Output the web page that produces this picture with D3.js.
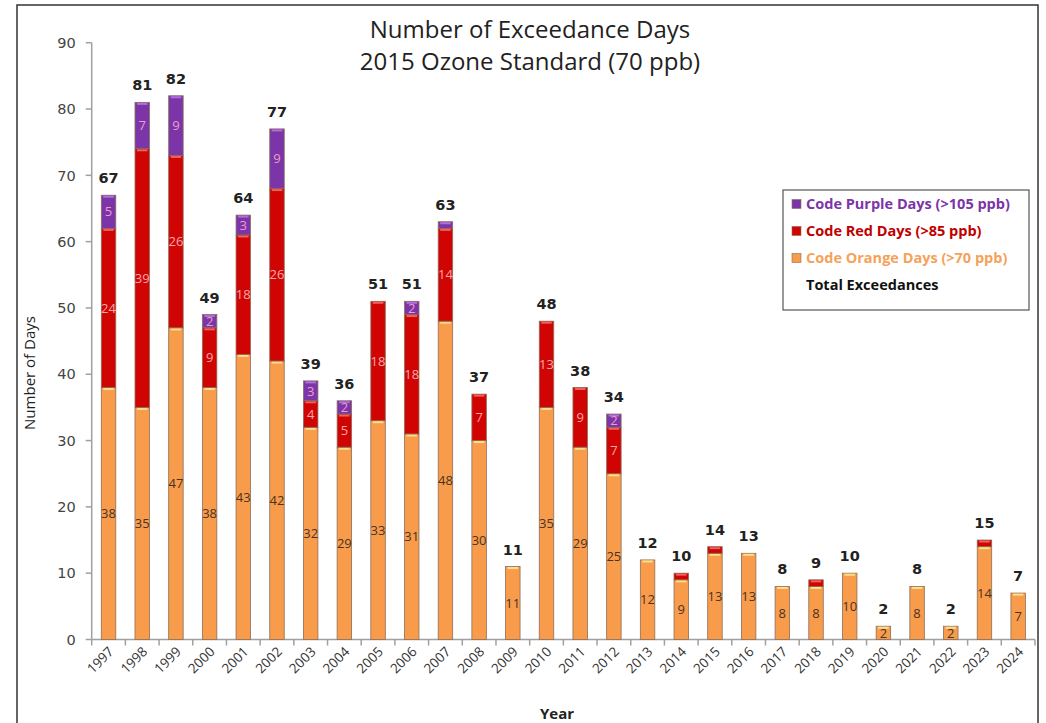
<!DOCTYPE html>
<html>
<head>
<meta charset="utf-8">
<script src="https://cdn.jsdelivr.net/npm/d3@7"></script>
<style>
  html, body { margin: 0; padding: 0; background: #fff; }
  #chart { width: 1046px; height: 723px; }
</style>
</head>
<body>
<div id="chart"></div>
<script>
const years = ["1997","1998","1999","2000","2001","2002","2003","2004","2005","2006","2007","2008","2009","2010",
               "2011","2012","2013","2014","2015","2016","2017","2018","2019","2020","2021","2022","2023","2024"];
const orangeDays = [38,35,47,38,43,42,32,29,33,31,48,30,11,35,29,25,12,9,13,13,8,8,10,2,8,2,14,7];
const redDays    = [24,39,26,9,18,26,4,5,18,18,14,7,0,13,9,7,0,1,1,0,0,1,0,0,0,0,1,0];
const purpleDays = [5,7,9,2,3,9,3,2,0,2,1,0,0,0,0,2,0,0,0,0,0,0,0,0,0,0,0,0];
const totalDays  = [67,81,82,49,64,77,39,36,51,51,63,37,11,48,38,34,12,10,14,13,8,9,10,2,8,2,15,7];
const yTicks = [0,10,20,30,40,50,60,70,80,90];
const titleLines = ["Number of Exceedance Days", "2015 Ozone Standard (70 ppb)"];
const legendItems = ["Code Purple Days (>105 ppb)", "Code Red Days (>85 ppb)", "Code Orange Days (>70 ppb)", "Total Exceedances"];

const W = 1046, H = 723;
const margin = {left: 91.7, right: 11, top: 42.7, bottom: 83.5};
const width = W - margin.left - margin.right;
const height = H - margin.top - margin.bottom;

const keys = ["orange", "red", "purple"];
const fills = {orange: "#F89C4C", red: "#D10404", purple: "#7B35A8"};
const caps = {orange: "#FBE08C", red: "#F0605C", purple: "#B070D8"};
const labelColors = {orange: "#4a3320", red: "#F6A8A8", purple: "#EE9CC8"};

const table = years.map((y, i) => ({year: y, orange: orangeDays[i], red: redDays[i], purple: purpleDays[i], total: totalDays[i]}));
const series = d3.stack().keys(keys)(table);

const xScale = d3.scaleBand().domain(years).range([0, width]).paddingInner(0.57).paddingOuter(0.285);
const yScale = d3.scaleLinear().domain([0, 90]).range([height, 0]);

const root = d3.select("#chart").append("svg")
    .attr("width", W)
    .attr("height", H);

// outer frame
root.append("rect")
    .attr("x", 17).attr("y", 5)
    .attr("width", 1021).attr("height", 730)
    .attr("fill", "none")
    .attr("stroke", "#333")
    .attr("stroke-width", 1.5);

const svg = root.append("g")
    .attr("transform", `translate(${margin.left},${margin.top})`);

// y axis
svg.append("line")
    .attr("x1", 0).attr("x2", 0)
    .attr("y1", 0).attr("y2", height)
    .attr("stroke", "#a0a0a0").attr("stroke-width", 1.5);

svg.selectAll(".yTick")
    .data(yTicks)
    .enter().append("line")
    .attr("class", "yTick")
    .attr("x1", -6).attr("x2", 0)
    .attr("y1", d => yScale(d)).attr("y2", d => yScale(d))
    .attr("stroke", "#a0a0a0").attr("stroke-width", 1.5);

svg.selectAll(".yLabel")
    .data(yTicks)
    .enter().append("text")
    .attr("class", "yLabel")
    .attr("x", -16)
    .attr("y", d => yScale(d))
    .attr("dy", "0.36em")
    .attr("text-anchor", "end")
    .attr("font-family", "DejaVu Sans")
    .attr("font-size", "14.5px")
    .attr("fill", "#444")
    .text(d => d);

// x axis
svg.append("line")
    .attr("x1", 0).attr("x2", width)
    .attr("y1", height).attr("y2", height)
    .attr("stroke", "#a0a0a0").attr("stroke-width", 1.5);

svg.selectAll(".xTick")
    .data(years.concat(["end"]))
    .enter().append("line")
    .attr("class", "xTick")
    .attr("x1", (d, i) => i * xScale.step())
    .attr("x2", (d, i) => i * xScale.step())
    .attr("y1", height).attr("y2", height + 6)
    .attr("stroke", "#a0a0a0").attr("stroke-width", 1.5);

svg.selectAll(".xLabel")
    .data(years)
    .enter().append("text")
    .attr("class", "xLabel")
    .attr("transform", d => `translate(${xScale(d) + xScale.bandwidth() / 2 + 6},${height + 13}) rotate(-45)`)
    .attr("text-anchor", "end")
    .attr("font-family", "Open Sans")
    .attr("font-size", "13.5px")
    .attr("fill", "#333")
    .text(d => d);

// stacked bars
const layers = svg.selectAll(".layer")
    .data(series)
    .enter().append("g")
    .attr("class", "layer");

layers.selectAll(".bar")
    .data(s => s.map(d => ({key: s.key, year: d.data.year, y0: d[0], y1: d[1]})).filter(d => d.y1 > d.y0))
    .enter().append("rect")
    .attr("class", "bar")
    .attr("x", d => xScale(d.year))
    .attr("y", d => yScale(d.y1))
    .attr("width", xScale.bandwidth())
    .attr("height", d => yScale(d.y0) - yScale(d.y1))
    .attr("fill", d => fills[d.key])
    .attr("stroke", "#8c6e58")
    .attr("stroke-width", 0.8);

// light cap on top of each segment
layers.selectAll(".cap")
    .data(s => s.map(d => ({key: s.key, year: d.data.year, y0: d[0], y1: d[1]})).filter(d => d.y1 > d.y0))
    .enter().append("rect")
    .attr("class", "cap")
    .attr("x", d => xScale(d.year) + 2)
    .attr("y", d => yScale(d.y1) + 0.5)
    .attr("width", xScale.bandwidth() - 4)
    .attr("height", 2)
    .attr("fill", d => caps[d.key]);

// segment labels
layers.selectAll(".segLabel")
    .data(s => s.map(d => ({key: s.key, year: d.data.year, v: d[1] - d[0], y0: d[0], y1: d[1]})).filter(d => d.v >= 2))
    .enter().append("text")
    .attr("class", "segLabel")
    .attr("x", d => xScale(d.year) + xScale.bandwidth() / 2)
    .attr("y", d => yScale((d.y0 + d.y1) / 2))
    .attr("dy", "0.36em")
    .attr("text-anchor", "middle")
    .attr("font-family", "Open Sans")
    .attr("font-size", "13px")
    .attr("fill", d => labelColors[d.key])
    .text(d => d.v);

// totals
svg.selectAll(".totalLabel")
    .data(table)
    .enter().append("text")
    .attr("class", "totalLabel")
    .attr("x", d => xScale(d.year) + xScale.bandwidth() / 2)
    .attr("y", d => yScale(d.total) - 12)
    .attr("text-anchor", "middle")
    .attr("font-family", "DejaVu Sans")
    .attr("font-weight", "bold")
    .attr("font-size", "14.5px")
    .attr("fill", "#222")
    .text(d => d.total);

// title
root.selectAll(".title")
    .data(titleLines)
    .enter().append("text")
    .attr("class", "title")
    .attr("x", 530)
    .attr("y", (d, i) => 38 + i * 32)
    .attr("text-anchor", "middle")
    .attr("font-family", "Open Sans")
    .attr("font-size", "24px")
    .attr("fill", "#222")
    .text(d => d);

// axis titles
root.append("text")
    .attr("transform", "translate(35,373) rotate(-90)")
    .attr("text-anchor", "middle")
    .attr("font-family", "Open Sans")
    .attr("font-size", "15px")
    .attr("fill", "#222")
    .text("Number of Days");

root.append("text")
    .attr("x", 557)
    .attr("y", 719)
    .attr("text-anchor", "middle")
    .attr("font-family", "Open Sans")
    .attr("font-weight", "bold")
    .attr("font-size", "15px")
    .attr("fill", "#222")
    .text("Year");

// legend
const legend = root.append("g").attr("transform", "translate(783,190)");
legend.append("rect")
    .attr("width", 246).attr("height", 120)
    .attr("fill", "#fff")
    .attr("stroke", "#555").attr("stroke-width", 1.2);

const legendColors = [fills.purple, fills.red, fills.orange, null];
const legendText = ["#7B35A8", "#C00000", "#F5A25A", "#111"];
legendItems.forEach((t, i) => {
    const row = legend.append("g").attr("transform", `translate(0,${14 + i * 27})`);
    if (legendColors[i]) {
        row.append("rect")
            .attr("x", 9).attr("y", -4.5)
            .attr("width", 9).attr("height", 9)
            .attr("fill", legendColors[i])
            .attr("stroke", "#8c6e58").attr("stroke-width", 0.6);
    }
    row.append("text")
        .attr("x", 23)
        .attr("y", 0)
        .attr("dy", "0.36em")
        .attr("font-family", "Open Sans")
        .attr("font-weight", "bold")
        .attr("font-size", "14.5px")
        .attr("textLength", null)
        .attr("fill", legendText[i])
        .text(t);
});
</script>
</body>
</html>
